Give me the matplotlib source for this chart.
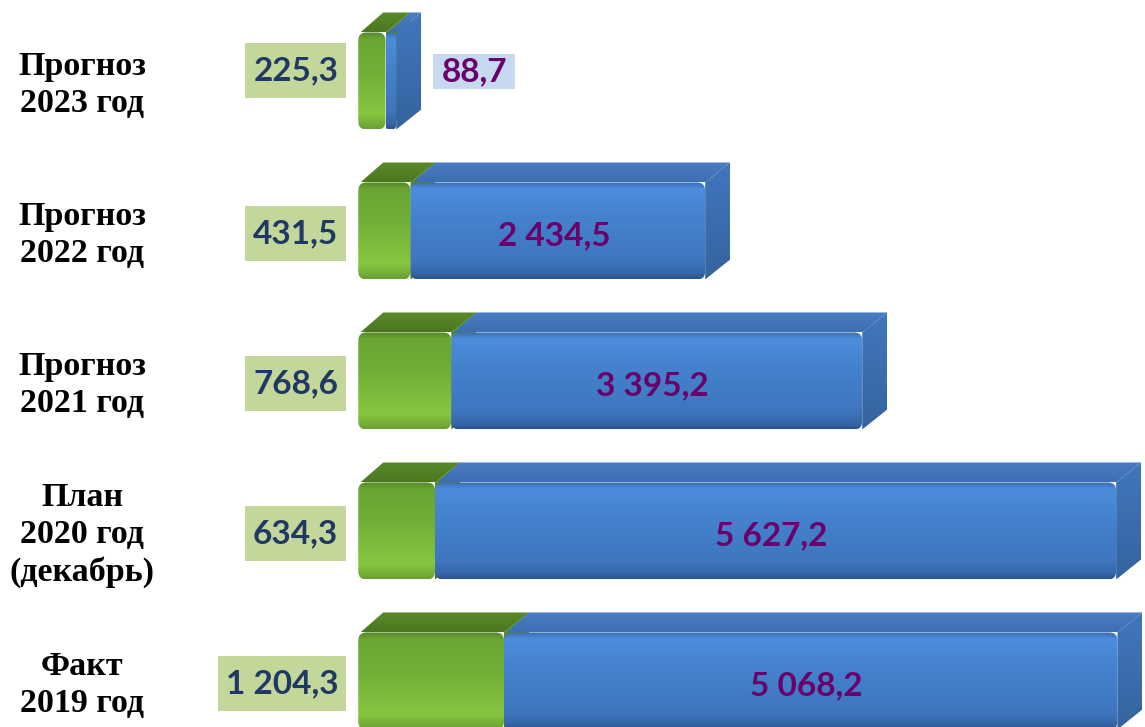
import matplotlib.pyplot as plt
import numpy as np
from matplotlib.patches import FancyBboxPatch, Polygon, Rectangle
from matplotlib.colors import LinearSegmentedColormap

# данные (снизу вверх)
periods = ["Факт\n2019 год", "План\n2020 год\n(декабрь)", "Прогноз\n2021 год",
           "Прогноз\n2022 год", "Прогноз\n2023 год"]
green_vals = [1204.3, 634.3, 768.6, 431.5, 225.3]
blue_vals = [5068.2, 5627.2, 3395.2, 2434.5, 88.7]
green_labels = ["1 204,3", "634,3", "768,6", "431,5", "225,3"]
blue_labels = ["5 068,2", "5 627,2", "3 395,2", "2 434,5", "88,7"]

W, H = 1145, 727
XLIM = (-2960, 6500)
YLIM = (-0.307, 4.54)
px_x = W / (XLIM[1] - XLIM[0])   # пикселей на единицу по x
px_y = H / (YLIM[1] - YLIM[0])   # пикселей на единицу по y

bar_h = 97 / px_y
dx = 25 / px_x
dy = 20 / px_y

green_front = LinearSegmentedColormap.from_list(
    "gf", [(0, "#55882a"), (0.07, "#6aa533"), (0.4, "#70af37"), (0.85, "#86c640"), (1, "#6a9f32")])
blue_front = LinearSegmentedColormap.from_list(
    "bf", [(0, "#3a6cae"), (0.07, "#4c8ddc"), (0.35, "#4582ce"), (0.8, "#3f77bf"), (0.94, "#3667aa"), (1, "#2b5290")])
green_top = LinearSegmentedColormap.from_list("gt", ["#5a8a2a", "#4b771f"])
blue_top = LinearSegmentedColormap.from_list("bt", ["#4a7dc2", "#3d6eb0"])
blue_side = LinearSegmentedColormap.from_list("bs", ["#4277bd", "#35639f"])

fig = plt.figure(figsize=(W / 100, H / 100), dpi=100)
ax = fig.add_axes([0, 0, 1, 1])
ax.set_xlim(XLIM)
ax.set_ylim(YLIM)
ax.axis("off")


def grad_fill(patch, cmap, extent, z):
    ax.add_patch(patch)
    grad = np.linspace(0, 1, 256).reshape(-1, 1)
    im = ax.imshow(grad, cmap=cmap, extent=extent, aspect="auto",
                   origin="upper", zorder=z, interpolation="bilinear")
    im.set_clip_path(patch)


def draw_box(left, width, yc, cm_front, cm_top, cm_side, z):
    bot = yc - bar_h / 2
    top = yc + bar_h / 2
    right = left + width
    # верхняя грань
    tp = Polygon([(left + 2 / px_x, top), (right, top), (right + dx, top + dy), (left + dx, top + dy)],
                 closed=True, facecolor="none", edgecolor="none", zorder=z)
    grad_fill(tp, cm_top, (left, right + dx, top, top + dy), z)
    # боковая грань
    sp = Polygon([(right, bot), (right + dx, bot + dy), (right + dx, top + dy), (right, top)],
                 closed=True, facecolor="none", edgecolor="none", zorder=z)
    grad_fill(sp, cm_side, (right, right + dx, bot, top + dy), z)
    # передняя грань со скруглением
    r_px = min(8, width * px_x / 2 - 0.5)
    fp = FancyBboxPatch((left, bot), width, bar_h,
                        boxstyle=f"round,pad=0,rounding_size={r_px / px_x}",
                        mutation_aspect=px_x / px_y,
                        facecolor="none", edgecolor="none", zorder=z + 0.5)
    grad_fill(fp, cm_front, (left, right, bot, top), z + 0.5)


boxed = []  # (текст, цвет фона, отступ по x, отступ по y)
for i in range(len(periods)):
    yc = i
    g = green_vals[i]
    b = blue_vals[i]
    draw_box(0, g, yc, green_front, green_top, green_top, 2 + i * 0.01)
    draw_box(g, b, yc, blue_front, blue_top, blue_side, 3 + i * 0.01)

    # подписи слева
    ax.text(82 / W, yc - 0.025, periods[i], transform=ax.get_yaxis_transform(),
            ha="center", va="center", fontsize=24.5, fontweight="bold",
            family="Liberation Serif", linespacing=1.25, color="black")

    small = b * px_x < 150
    # зелёные подписи в рамке
    t = ax.text(-(20 / px_x), yc + (0.07 if small else -0.02), green_labels[i], ha="right", va="center",
                fontsize=24, fontweight="bold", family="Lato", color="#1f3864", zorder=10)
    boxed.append((t, "#c4d79b", 8, 13))

    # синие подписи
    if small:
        t = ax.text(g + b + dx + 20 / px_x, yc + 0.06, blue_labels[i], ha="left", va="center",
                    fontsize=24, fontweight="bold", family="Lato", color="#6a006a", zorder=10)
        boxed.append((t, "#c6d9f1", 8, 3))
    else:
        ax.text(g + b / 2 - 4 / px_x, yc - 0.035, blue_labels[i], ha="center", va="center",
                fontsize=24, fontweight="bold", family="Lato", color="#6a006a", zorder=10)

# фон под подписями
fig.canvas.draw()
renderer = fig.canvas.get_renderer()
inv = ax.transData.inverted()
for t, col, padx, pady in boxed:
    bb = t.get_window_extent(renderer)
    (x0, y0), (x1, y1) = inv.transform([(bb.x0 - padx, bb.y0 - pady), (bb.x1 + padx, bb.y1 + pady)])
    ax.add_patch(Rectangle((x0, y0), x1 - x0, y1 - y0, facecolor=col, edgecolor="none", zorder=9))

fig.savefig("out.png", dpi=100)
